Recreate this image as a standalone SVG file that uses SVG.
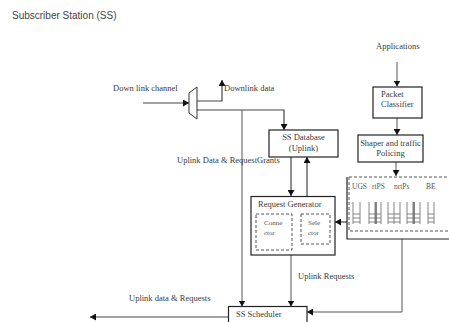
<svg xmlns="http://www.w3.org/2000/svg" width="449" height="322" viewBox="0 0 449 322">
<style>
.t{font-family:"Liberation Serif",serif;font-size:8.5px;fill:#3a3a3a}
.s{font-family:"Liberation Serif",serif;font-size:7px;fill:#555}
.q{font-family:"Liberation Serif",serif;font-size:7.5px;fill:#555}
.box{fill:#fff;stroke:#222;stroke-width:1.2}
.dash{fill:none;stroke:#555;stroke-width:1;stroke-dasharray:3,2}
.c{fill:none;stroke:#444;stroke-width:1.2}
.g{fill:none;stroke:#555;stroke-width:1}
</style>
<defs>
<marker id="ah" markerUnits="userSpaceOnUse" markerWidth="7" markerHeight="7" refX="6" refY="3.5" orient="auto">
<path d="M0,0 L6,3.5 L0,7 z" fill="#111"/>
</marker>
</defs>
<rect width="449" height="322" fill="#fff"/>
<text x="12" y="19" style="font-family:'Liberation Sans',sans-serif;font-size:10px;fill:#444">Subscriber Station (SS)</text>

<g id="connectors">
<path class="c" d="M143,103 H189" marker-end="url(#ah)"/>
<path class="c" d="M197,101 H222 V80" marker-end="url(#ah)"/>
<path class="c" d="M197,110 H284 V130" marker-end="url(#ah)"/>
<path class="g" d="M242,110 V306.5" marker-end="url(#ah)"/>
<path class="c" d="M291,157 V196" marker-end="url(#ah)"/>
<path class="c" d="M307,196 V157" marker-end="url(#ah)"/>
<path class="c" d="M347,222 H335" marker-end="url(#ah)"/>
<path class="c" d="M301,222 H292" marker-end="url(#ah)"/>
<path class="c" d="M292,234 H301" marker-end="url(#ah)"/>
<path class="g" d="M291,255 V306.5" marker-end="url(#ah)"/>
<path class="g" d="M402,239 V312 H307" marker-end="url(#ah)"/>
<path class="c" d="M228,317 H90" marker-end="url(#ah)"/>
<path class="g" d="M397,62 V86.5" marker-end="url(#ah)"/>
<path class="g" d="M397,118 V135" marker-end="url(#ah)"/>
<path class="g" d="M396,162 V176" marker-end="url(#ah)"/>
</g>

<g id="labels">
<text class="t" x="113" y="91">Down link channel</text>
<text class="t" x="224" y="91">Downlink data</text>
<text class="t" x="177" y="163">Uplink Data &amp; RequestGrants</text>
<text class="t" x="298" y="279">Uplink Requests</text>
<text class="t" x="129" y="301">Uplink data &amp; Requests</text>
<text class="t" x="376" y="49">Applications</text>
</g>

<g id="demux">
<path d="M189,93 L197,87 L197,119 L189,113 Z" fill="#fff" stroke="#333" stroke-width="1"/>
</g>

<g id="ss-database">
<rect class="box" x="269" y="130" width="69" height="27"/>
<text class="t" x="303.5" y="140" text-anchor="middle">SS Database</text>
<text class="t" x="303.5" y="151" text-anchor="middle">(Uplink)</text>
</g>

<g id="packet-classifier">
<rect class="box" x="373" y="87" width="49" height="31"/>
<text class="t" x="381" y="97">Packet</text>
<text class="t" x="381" y="107">Classifier</text>
</g>

<g id="shaper">
<rect class="box" x="358" y="135" width="65" height="27"/>
<text class="t" x="390.5" y="146" text-anchor="middle">Shaper and traffic</text>
<text class="t" x="390.5" y="155.5" text-anchor="middle">Policing</text>
</g>

<g id="request-generator">
<rect class="box" x="251" y="196.5" width="84" height="58.5"/>
<text class="t" x="258" y="207">Request Generator</text>
<g id="connector">
<rect class="dash" x="256" y="214" width="36" height="36"/>
<text class="s" x="264" y="225">Conne</text>
<text class="s" x="264" y="235">ctor</text>
</g>
<g id="selector">
<rect class="dash" x="301" y="214" width="29" height="30"/>
<text class="s" x="308" y="225">Sele</text>
<text class="s" x="308" y="235">ctor</text>
</g>
</g>

<g id="queues">
<path d="M347,177 V239 H455" fill="#fff" stroke="#222" stroke-width="1.2"/>
<rect class="dash" x="349" y="177" width="110" height="54"/>
<text class="q" x="352" y="189">UGS</text>
<text class="q" x="372" y="189">rtPS</text>
<text class="q" x="394" y="189">nrtPs</text>
<text class="q" x="426" y="189">BE</text>
<g stroke="#777" stroke-width="0.9" fill="none">
<path d="M353,202 V224 M360,202 V224 M353,214 H360 M353,218 H360 M353,222 H360"/>
<path d="M369,202 V224 M375,202 V224 M381,202 V224 M369,214 H381 M369,218 H381 M369,222 H381"/>
<path d="M376,202 V224" stroke-width="1.8"/>
<path d="M388,202 V224 M394,202 V224 M400,202 V224 M388,214 H400 M388,218 H400 M388,222 H400"/>
<path d="M407,202 V224 M413,202 V224 M420,202 V224 M407,214 H420 M407,218 H420 M407,222 H420"/>
<path d="M414,202 V224" stroke-width="1.8"/>
<path d="M428,202 V224 M434,202 V224 M428,214 H434 M428,218 H434 M428,222 H434"/>
</g>
</g>

<g id="ss-scheduler">
<rect class="box" x="228.5" y="306.5" width="78.5" height="20"/>
<text class="t" x="236" y="316.5">SS Scheduler</text>
</g>
</svg>
